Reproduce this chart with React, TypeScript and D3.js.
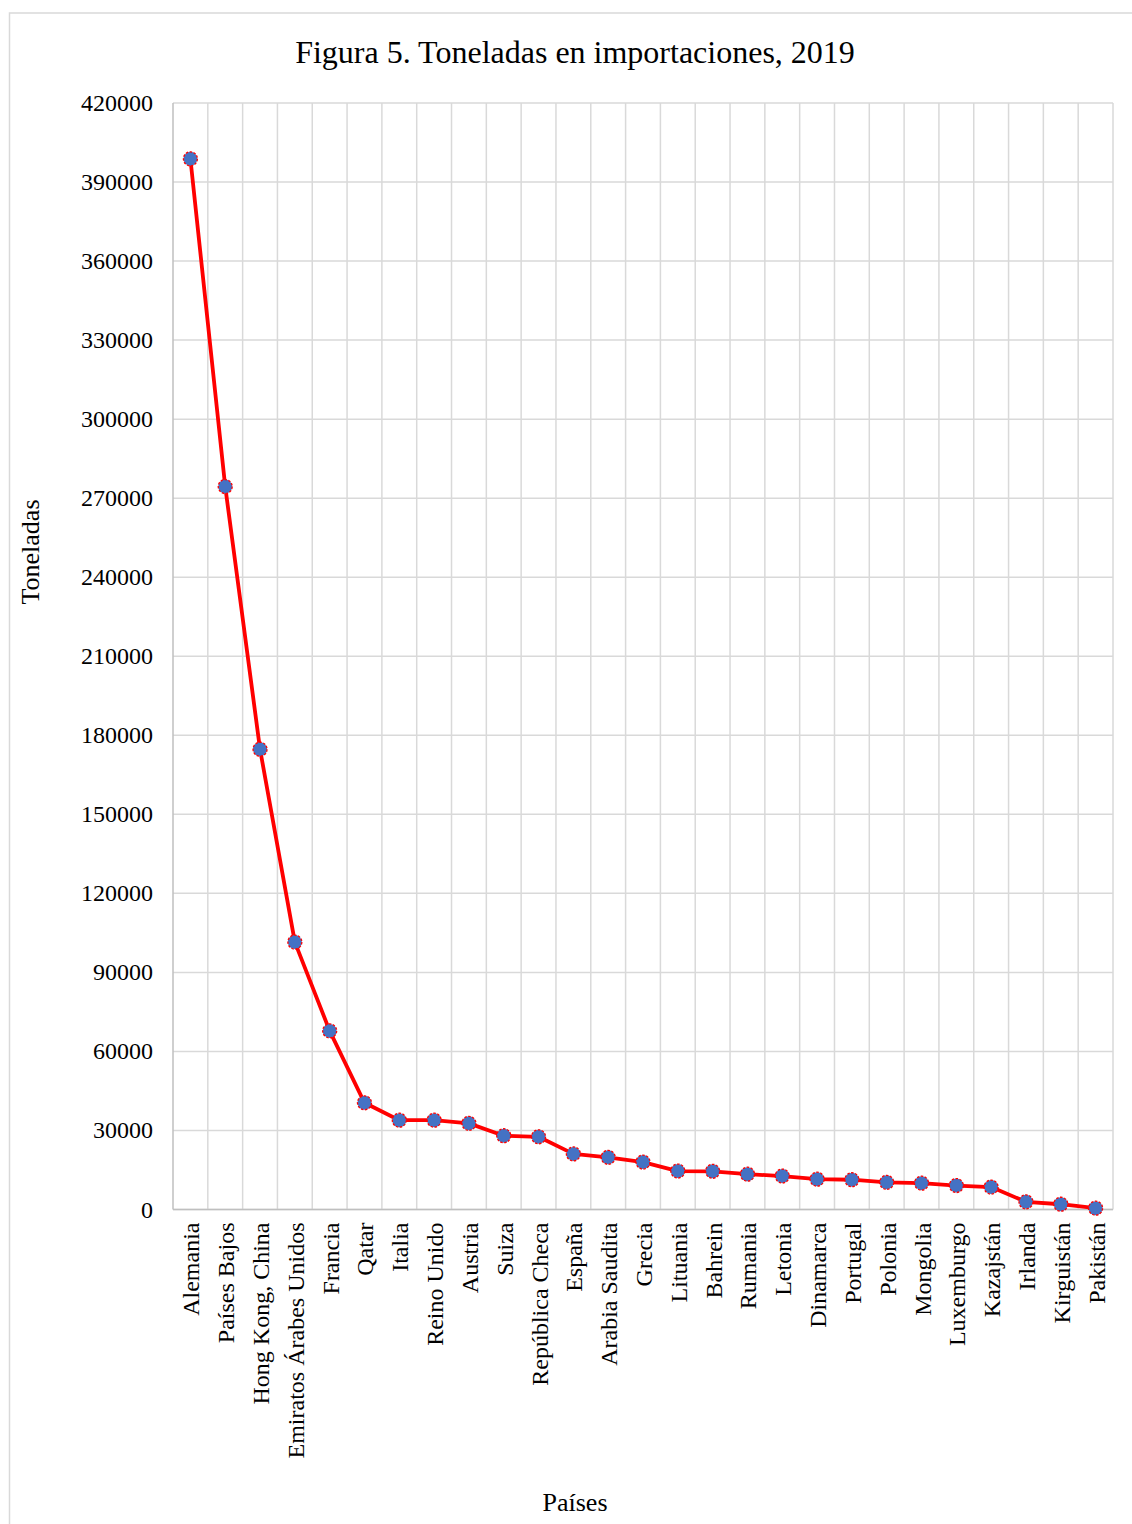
import * as d3 from "d3";

const paises = [
  "Alemania", "Países Bajos", "Hong Kong, China", "Emiratos Árabes Unidos", "Francia",
  "Qatar", "Italia", "Reino Unido", "Austria", "Suiza", "República Checa", "España",
  "Arabia Saudita", "Grecia", "Lituania", "Bahrein", "Rumania", "Letonia", "Dinamarca",
  "Portugal", "Polonia", "Mongolia", "Luxemburgo", "Kazajstán", "Irlanda", "Kirguistán",
  "Pakistán",
];

const toneladas = [
  398800, 274400, 174700, 101500, 67800, 40500, 33900, 33900, 32700, 28000, 27600, 21100,
  19800, 18000, 14600, 14500, 13400, 12700, 11500, 11300, 10300, 10000, 9100, 8500, 2900,
  2000, 500,
];

const yTicks = [0, 30000, 60000, 90000, 120000, 150000, 180000, 210000, 240000, 270000, 300000, 330000, 360000, 390000, 420000];

const W = 1132;
const H = 1524;
const left = 173;
const right = 1113;
const top = 103;
const bottom = 1209.5;
const font = "'Liberation Serif', 'Times New Roman', serif";

export default function App() {
  const x = d3.scaleBand().domain(paises).range([left, right]);
  const y = d3.scaleLinear().domain([0, 420000]).range([bottom, top]);
  const line = d3
    .line<number>()
    .x((_, i) => x(paises[i])! + x.bandwidth() / 2)
    .y((d) => y(d));

  return (
    <svg
      width={W}
      height={H}
      style={{ position: "absolute", left: 0, top: 0, background: "#fff" }}
      fontFamily={font}
    >
      <rect x={9.5} y={13} width={W + 10} height={H + 10} fill="none" stroke="#d9d9d9" strokeWidth={1.5} />
      <text x={575} y={63} textAnchor="middle" fontSize={32} fill="#000">
        Figura 5. Toneladas en importaciones, 2019
      </text>

      {yTicks.map((t) => (
        <g key={t}>
          <line x1={left} x2={right} y1={y(t)} y2={y(t)} stroke="#d9d9d9" strokeWidth={1.5} />
          <text x={153} y={y(t) + 8} textAnchor="end" fontSize={24} fill="#000">
            {t}
          </text>
        </g>
      ))}
      {paises.map((p, i) => (
        <line
          key={p}
          x1={x(p)!}
          x2={x(p)!}
          y1={top}
          y2={bottom}
          stroke={i === 0 ? "#bfbfbf" : "#d9d9d9"}
          strokeWidth={1.5}
        />
      ))}
      <line x1={right} x2={right} y1={top} y2={bottom} stroke="#d9d9d9" strokeWidth={1.5} />
      <line x1={left} x2={right} y1={bottom} y2={bottom} stroke="#bfbfbf" strokeWidth={1.5} />

      <path d={line(toneladas)!} fill="none" stroke="#ff0000" strokeWidth={3.8} strokeLinejoin="round" />
      {toneladas.map((v, i) => (
        <circle
          key={i}
          cx={x(paises[i])! + x.bandwidth() / 2}
          cy={y(v)}
          r={7}
          fill="#4472c4"
          stroke="#ff0000"
          strokeWidth={1.3}
          strokeDasharray="2.5 1.5"
        />
      ))}

      {paises.map((p) => {
        const cx = x(p)! + x.bandwidth() / 2 + 9;
        return (
          <text
            key={p}
            transform={`translate(${cx},${bottom + 13}) rotate(-90)`}
            textAnchor="end"
            fontSize={24}
            fill="#000"
          >
            {p}
          </text>
        );
      })}

      <text transform="translate(39,552) rotate(-90)" textAnchor="middle" fontSize={26} fill="#000">
        Toneladas
      </text>
      <text x={575} y={1511} textAnchor="middle" fontSize={26} fill="#000">
        Países
      </text>
    </svg>
  );
}
